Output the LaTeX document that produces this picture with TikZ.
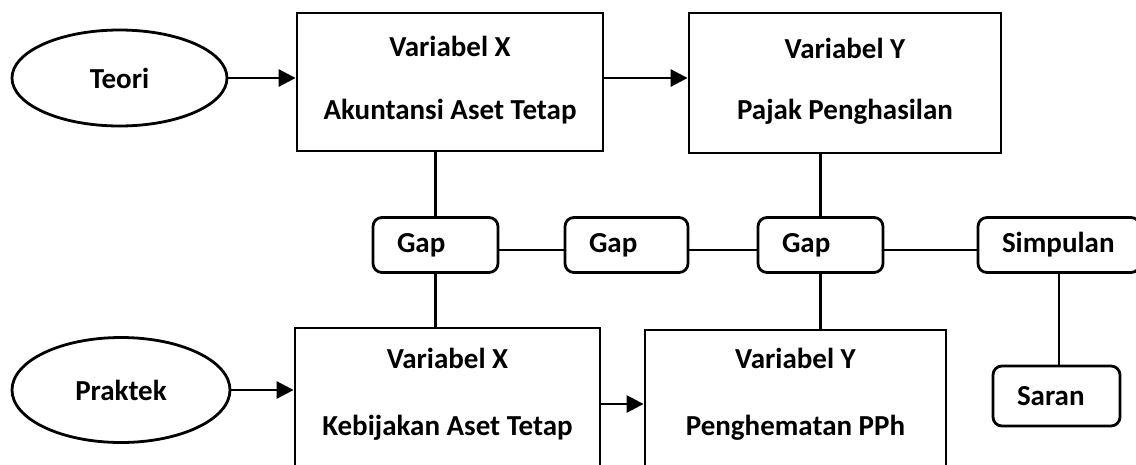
\documentclass[tikz,border=0pt]{standalone}
\usepackage{fontspec}
\setmainfont{Carlito}
\usetikzlibrary{arrows.meta,shapes.geometric}
\begin{document}
\begin{tikzpicture}[x=1pt,y=-1pt,
  line width=2.8pt,
  txt/.style={font=\fontsize{29}{33}\selectfont\bfseries},
  box/.style={draw, rectangle, inner sep=0pt},
  lbl/.style={txt, inner sep=0pt},
  oval/.style={draw, ellipse, inner sep=0pt, txt},
  gapbox/.style={draw, rectangle, rounded corners=9pt, inner ysep=0pt, inner xsep=24pt, align=left, minimum height=55pt, txt},
  arr/.style={-{Triangle[length=17pt,width=17pt]}},
]
\useasboundingbox (0,0) rectangle (1136,464);
\clip (0,0) rectangle (1136,464);
\fill[white] (0,0) rectangle (1136,464);

% ellipses
\node[oval, minimum width=215pt, minimum height=96pt] (teori) at (119.5,78) {Teori};
\node[oval, minimum width=218pt, minimum height=105pt] (praktek) at (121,390) {Praktek};

% big boxes
\node[box, minimum width=306pt, minimum height=138pt] (xt) at (450,82) {};
\node[box, minimum width=312pt, minimum height=140pt] (yt) at (845,83) {};
\node[box, minimum width=305pt, minimum height=152pt] (xb) at (447.5,404) {};
\node[box, minimum width=301pt, minimum height=150pt] (yb) at (795.5,405) {};

\node[lbl] (xt1) at (450,46) {Variabel X};
\node[lbl] (xt2) at (450,112) {Akuntansi Aset Tetap};
\node[lbl] (yt1) at (845,48) {Variabel Y};
\node[lbl] (yt2) at (845,112) {Pajak Penghasilan};
\node[lbl] (xb1) at (447.5,358) {Variabel X};
\node[lbl] (xb2) at (447.5,428) {Kebijakan Aset Tetap};
\node[lbl] (yb1) at (795.5,358) {Variabel Y};
\node[lbl] (yb2) at (795.5,428) {Penghematan PPh};

% rounded boxes
\node[gapbox, text width=77pt] (gap1) at (435.5,245) {Gap};
\node[gapbox, text width=75pt] (gap2) at (626.5,245) {Gap};
\node[gapbox, text width=77pt] (gap3) at (820.5,245) {Gap};
\node[gapbox, text width=114pt] (simp) at (1059,245) {Simpulan};
\node[gapbox, text width=79pt, minimum height=60pt] (saran) at (1056.5,396) {Saran};

% arrows
\draw[arr] (teori.east) -- (teori.east -| xt.west);
\draw[arr] (xt.east |- teori.east) -- (teori.east -| yt.west);
\draw[arr] (praktek.east) -- (praktek.east -| xb.west);
\draw[arr] (xb.east) -- (xb.east -| yb.west);

% plain connectors
\draw (gap1.north) -- (gap1.north |- xt.south);
\draw (gap1.south) -- (gap1.south |- xb.north);
\draw (gap3.north) -- (gap3.north |- yt.south);
\draw (gap3.south) -- (gap3.south |- yb.north);
\draw ([yshift=-5pt]gap1.east) -- ([yshift=-5pt]gap2.west);
\draw ([yshift=-5pt]gap2.east) -- ([yshift=-5pt]gap3.west);
\draw ([yshift=-5pt]gap3.east) -- ([yshift=-5pt]simp.west);
\draw (simp.south) -- (simp.south |- saran.north);
\end{tikzpicture}
\end{document}
